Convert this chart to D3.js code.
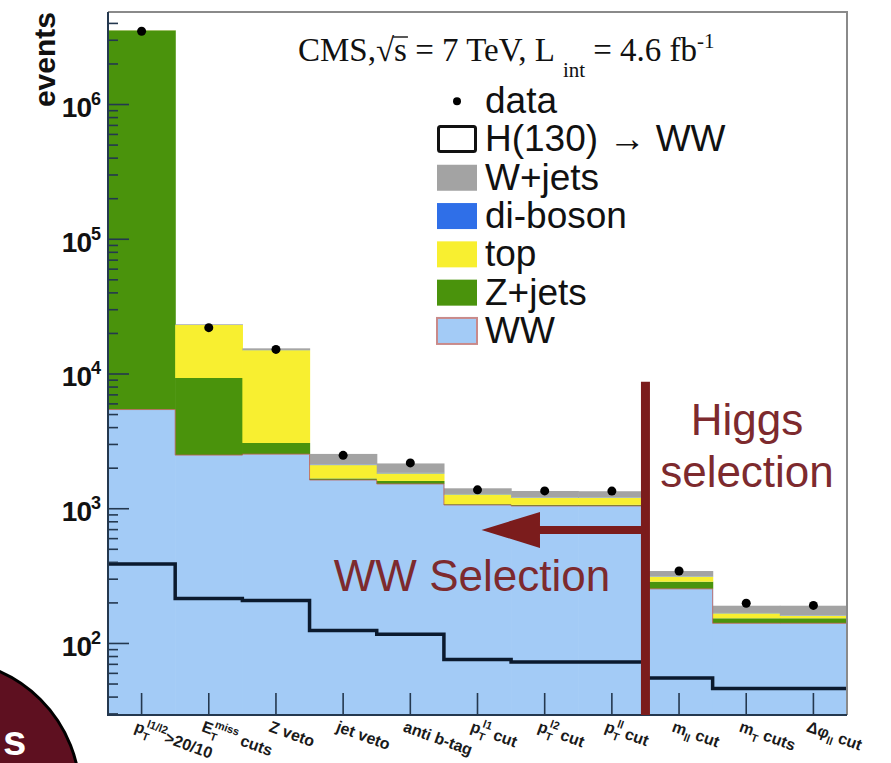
<!DOCTYPE html>
<html><head><meta charset="utf-8">
<script src="https://cdn.jsdelivr.net/npm/d3@7"></script>
<style>html,body{margin:0;padding:0;background:#fff;} svg{display:block;}</style>
</head><body>
<svg id="chart" width="891" height="763"></svg>
<script>
// Selection steps (one bin each)
const categories = ["ptLep", "met", "zveto", "jetveto", "btag", "ptl1", "ptl2", "ptll", "mll", "mt", "dphi"];

// Expected events per background (stacked bottom -> top: WW, Z+jets, top, di-boson, W+jets)
const wwValues      = [5400, 2480, 2520, 1620, 1514, 1057, 1040, 1040, 252, 140, 140];
const zjetsValues   = [3514600, 6780, 530, 45, 80, 15, 20, 20, 33, 12.5, 12.5];
const topValues     = [10000, 13640, 11850, 425, 220, 195, 137, 137, 26, 13.5, 6.5];
const dibosonValues = [400, 60, 50, 20, 16, 9, 8, 8, 2, 1, 1];
const wjetsValues   = [9600, 240, 420, 420, 320, 130, 138, 132, 29, 22, 29];

// Observed events and H(130) -> WW expectation
const dataValues  = [3470000, 21900, 15100, 2470, 2170, 1370, 1345, 1340, 342, 197, 190];
const higgsValues = [385, 214, 207, 124, 116, 75.5, 72.3, 72.3, 55, 46, 46];

// Axis tick labels
const yMajorTicks = [1e2, 1e3, 1e4, 1e5, 1e6];
const yTickExponents = ["2", "3", "4", "5", "6"];
const xTickLabels = [
  [["p", ""], ["T", "sub"], ["l1/l2", "sup"], [">20/10", ""]],
  [["E", ""], ["T", "sub"], ["miss", "sup"], [" cuts", ""]],
  [["Z veto", ""]],
  [["jet veto", ""]],
  [["anti b-tag", ""]],
  [["p", ""], ["T", "sub"], ["l1", "sup"], [" cut", ""]],
  [["p", ""], ["T", "sub"], ["l2", "sup"], [" cut", ""]],
  [["p", ""], ["T", "sub"], ["ll", "sup"], [" cut", ""]],
  [["m", ""], ["ll", "sub"], [" cut", ""]],
  [["m", ""], ["T", "sub"], [" cuts", ""]],
  [["\u0394\u03c6", ""], ["ll", "sub"], [" cut", ""]]
];

// Legend entries
const legendLabels = ["data", "H(130) \u2192 WW", "W+jets", "di-boson", "top", "Z+jets", "WW"];

const svg = d3.select("#chart");
const plotLeft = 108, plotRight = 847, plotTop = 12, plotBottom = 715;
const yMin = 29.2, yMax = 4.82e6;

const x = d3.scaleBand().domain(categories).range([plotLeft, plotRight]);
const y = d3.scaleLog().domain([yMin, yMax]).range([plotBottom, plotTop]);
const yc = v => y(Math.max(v, yMin));

const keys = ["WW", "Zjets", "top", "diboson", "Wjets"];
const colors = {WW: "#a3cbf6", Zjets: "#4a930c", top: "#f8ef30", diboson: "#2f6fe8", Wjets: "#a3a3a3"};
const maroon = "#7b1c1c";
const axisColor = "#24384f";

// white page
svg.append("rect").attr("width", 891).attr("height", 763).attr("fill", "#fff");

// stacked backgrounds
const rows = categories.map((c, i) => ({
  cat: c, WW: wwValues[i], Zjets: zjetsValues[i], top: topValues[i],
  diboson: dibosonValues[i], Wjets: wjetsValues[i]
}));
const series = d3.stack().keys(keys)(rows);
const gBars = svg.append("g");
series.forEach(s => {
  gBars.selectAll(null).data(s).join("rect")
    .attr("x", d => x(d.data.cat))
    .attr("width", x.bandwidth() + 0.6)
    .attr("y", d => yc(d[1]))
    .attr("height", d => Math.max(0, yc(d[0]) - yc(d[1])))
    .attr("fill", colors[s.key]);
});

const step = d3.line().curve(d3.curveStepAfter);
const stepPoints = vals => {
  const pts = categories.map((c, i) => [x(c), y(vals[i])]);
  pts.push([plotRight, y(vals[vals.length - 1])]);
  return pts;
};

// WW outline
svg.append("path").attr("d", step(stepPoints(wwValues)))
  .attr("fill", "none").attr("stroke", "#c0605a").attr("stroke-width", 1).attr("opacity", 0.8);

// H(130) -> WW signal
svg.append("path").attr("d", step(stepPoints(higgsValues)))
  .attr("fill", "none").attr("stroke", "#0b1a2e").attr("stroke-width", 3.5);

// data points
svg.append("g").selectAll("circle").data(dataValues).join("circle")
  .attr("cx", (d, i) => x(categories[i]) + x.bandwidth() / 2)
  .attr("cy", d => y(d))
  .attr("r", 4.5).attr("fill", "#000");

// y axis ticks (inside the frame)
const minorTicks = y.ticks().filter(v => !yMajorTicks.includes(v));
const gMinor = svg.append("g").attr("transform", `translate(${plotLeft},0)`)
  .call(d3.axisRight(y).tickValues(minorTicks).tickSize(10).tickFormat(""));
const gMajor = svg.append("g").attr("transform", `translate(${plotLeft},0)`)
  .call(d3.axisRight(y).tickValues(yMajorTicks).tickSize(21).tickFormat(""));
[gMinor, gMajor].forEach(g => {
  g.select(".domain").remove();
  g.selectAll("line").attr("stroke", axisColor).attr("stroke-width", 1.6);
});

// x axis ticks
const gX = svg.append("g").attr("transform", `translate(0,${plotBottom})`)
  .call(d3.axisTop(x).tickSize(22).tickFormat(""));
gX.select(".domain").remove();
gX.selectAll("line").attr("stroke", axisColor).attr("stroke-width", 1.6);

// frame
svg.append("path")
  .attr("d", `M${plotLeft},${plotTop}H${plotRight}V${plotBottom}`)
  .attr("fill", "none").attr("stroke", "#8a8a8a").attr("stroke-width", 2);
svg.append("path")
  .attr("d", `M${plotLeft},${plotTop}V${plotBottom}H${plotRight}`)
  .attr("fill", "none").attr("stroke", axisColor).attr("stroke-width", 2);

// y tick labels
const gYLab = svg.append("g").attr("font-family", "Liberation Sans, Arial, sans-serif")
  .attr("font-weight", "bold").attr("fill", "#111");
yMajorTicks.forEach((v, i) => {
  const t = gYLab.append("text").attr("x", 100).attr("y", y(v) + 13)
    .attr("text-anchor", "end").attr("font-size", 28).attr("letter-spacing", -1);
  t.append("tspan").text("10");
  t.append("tspan").attr("dy", -12).attr("font-size", 18).text(yTickExponents[i]);
});

// y axis title
svg.append("text")
  .attr("transform", `translate(55,${plotTop}) rotate(-90)`)
  .attr("text-anchor", "end")
  .attr("font-family", "Liberation Sans, Arial, sans-serif")
  .attr("font-weight", "bold").attr("font-size", 30).attr("fill", "#111")
  .text("events");

// x tick labels
const gXLab = svg.append("g").attr("font-family", "Liberation Sans, Arial, sans-serif")
  .attr("font-size", 16).attr("font-weight", "bold").attr("fill", "#1a1a1a");
xTickLabels.forEach((parts, i) => {
  const cx = x(categories[i]) + x.bandwidth() / 2;
  const t = gXLab.append("text")
    .attr("transform", `translate(${cx - 8},${plotBottom + 16}) rotate(20)`);
  let shift = 0;
  parts.forEach(([txt, kind], k) => {
    const ts = t.append("tspan").text(txt);
    if (kind === "sub") {
      ts.attr("font-size", 11).attr("dy", 5 - shift); shift = 5;
    } else if (kind === "sup") {
      const prevSub = k > 0 && parts[k - 1][1] === "sub";
      ts.attr("font-size", 11).attr("dy", -8 - shift);
      if (prevSub) ts.attr("dx", -6);
      shift = -8;
    } else {
      ts.attr("dy", -shift); shift = 0;
    }
  });
});

// selection annotation
const cutX = x("mll");
const arrowY = y(690);
svg.append("line")
  .attr("x1", cutX).attr("x2", cutX).attr("y1", y(8700)).attr("y2", plotBottom)
  .attr("stroke", maroon).attr("stroke-width", 9);
const tipX = x("ptl1") + x.bandwidth() * 0.56;
const headX = x("ptl2") + x.bandwidth() * 0.43;
svg.append("line")
  .attr("x1", headX - 2).attr("x2", cutX).attr("y1", arrowY).attr("y2", arrowY)
  .attr("stroke", maroon).attr("stroke-width", 8);
svg.append("path")
  .attr("d", `M${tipX},${arrowY}L${headX},${arrowY - 18}L${headX},${arrowY + 18}Z`)
  .attr("fill", maroon);

const gAnn = svg.append("g").attr("font-family", "Liberation Sans, Arial, sans-serif")
  .attr("fill", "#7d2a2e").attr("font-size", 44).attr("text-anchor", "middle");
gAnn.append("text").attr("x", 747).attr("y", 435).text("Higgs");
gAnn.append("text").attr("x", 747).attr("y", 487).text("selection");
gAnn.append("text").attr("x", 472).attr("y", 591).text("WW Selection");

// header
const head = svg.append("text").attr("x", 298).attr("y", 61)
  .attr("font-family", "Liberation Serif, Times New Roman, serif")
  .attr("font-size", 33).attr("fill", "#111");
head.append("tspan").text("CMS,");
head.append("tspan").text("\u221A");
head.append("tspan").text("s");
head.append("tspan").text(" = 7 TeV, L");
head.append("tspan").attr("dy", 16).attr("dx", 8).attr("font-size", 21).text("int");
head.append("tspan").attr("dy", -16).attr("dx", 8).text("= 4.6 fb");
head.append("tspan").attr("dy", -13).attr("font-size", 21).text("-1");
// overbar of the square root
{
  const n = head.node();
  const s0 = n.getStartPositionOfChar(5), s1 = n.getEndPositionOfChar(5);
  svg.append("line").attr("x1", s0.x - 1).attr("x2", s1.x + 1)
    .attr("y1", 61 - 24).attr("y2", 61 - 24)
    .attr("stroke", "#111").attr("stroke-width", 1.4);
}

// legend
const gLeg = svg.append("g").attr("font-family", "Liberation Sans, Arial, sans-serif")
  .attr("font-size", 37).attr("fill", "#111");
const legTop = 82, legStep = 38.3, swX = 437, swW = 40, swH = 26, txtX = 485;
legendLabels.forEach((lab, i) => {
  const cy = legTop + i * legStep + legStep / 2;
  if (i === 0) {
    gLeg.append("circle").attr("cx", swX + swW / 2).attr("cy", cy).attr("r", 4).attr("fill", "#000");
  } else if (i === 1) {
    gLeg.append("rect").attr("x", swX + 1.5).attr("y", cy - swH / 2).attr("width", swW - 3).attr("height", swH - 1)
      .attr("fill", "#fff").attr("stroke", "#111").attr("stroke-width", 3).attr("rx", 2);
  } else {
    const key = keys[keys.length - (i - 1)];
    gLeg.append("rect").attr("x", swX).attr("y", cy - swH / 2).attr("width", swW).attr("height", swH)
      .attr("fill", colors[key])
      .attr("stroke", key === "WW" ? "#c98a8a" : "none").attr("stroke-width", 2);
  }
  gLeg.append("text").attr("x", txtX).attr("y", cy + 12).text(lab);
});

// corner badge
svg.append("circle").attr("cx", -55).attr("cy", 795).attr("r", 135)
  .attr("fill", "#5e1020").attr("stroke", "#000").attr("stroke-width", 3);
svg.append("text").attr("x", 3).attr("y", 755)
  .attr("font-family", "Liberation Sans, Arial, sans-serif")
  .attr("font-weight", "bold").attr("font-size", 42).attr("fill", "#fff").text("s");
</script>
</body></html>
